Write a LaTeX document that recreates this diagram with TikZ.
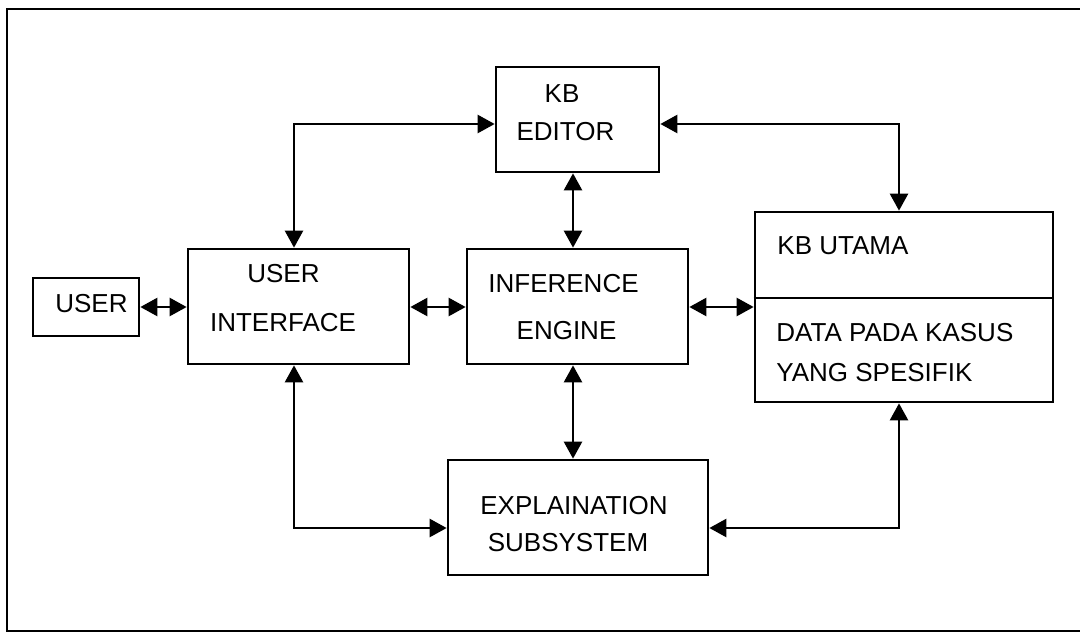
\documentclass[tikz,border=0pt]{standalone}
\usepackage{fontspec}
\setmainfont{Liberation Sans}
\usetikzlibrary{arrows.meta}
\begin{document}
\begin{tikzpicture}[x=0.5pt,y=-0.5pt,
  box/.style={draw, line width=1.35pt, inner sep=0pt},
  lbl/.style={inner sep=0pt, anchor=base, font=\fontsize{13}{15}\selectfont},
  lbll/.style={lbl, anchor=base west},
  link/.style={line width=1.25pt, {Triangle[length=8.5pt,width=9pt]}-{Triangle[length=8.5pt,width=9pt]}},
  framestyle/.style={line width=1pt}]
\useasboundingbox (0,0) rectangle (1080,632);
\coordinate (f1) at (1080,9);
\coordinate (f2) at (7,9);
\coordinate (f3) at (7,631);
\coordinate (f4) at (1080,631);
\draw[framestyle] (f1) -- (f2) -- (f3) -- (f4);

% boxes
\node[box, minimum width=53pt, minimum height=29pt] (user) at (86,307) {};
\node[box, minimum width=110.5pt, minimum height=57.5pt] (ui) at (298.5,306.5) {};
\node[box, minimum width=110.5pt, minimum height=57.5pt] (ie) at (577.5,306.5) {};
\node[box, minimum width=81.5pt, minimum height=52.5pt] (kbe) at (577.5,119.5) {};
\node[box, minimum width=149pt, minimum height=95pt] (kbu) at (904,307) {};
\node[box, minimum width=130pt, minimum height=57.5pt] (expl) at (578,517.5) {};

\coordinate (dv) at (0,298);
\draw[line width=1.35pt] (kbu.west |- dv) -- (kbu.east |- dv);

% texts
\node[lbl] (tuser) at (91.5,312) {USER};
\node[lbl] (tui1) at (283.5,282) {USER};
\node[lbl] (tui2) at (283,331) {INTERFACE};
\node[lbl] (tie1) at (563.5,292) {INFERENCE};
\node[lbl] (tie2) at (566.5,339) {ENGINE};
\node[lbl] (tkbe1) at (562,102) {KB};
\node[lbl] (tkbe2) at (565.5,140) {EDITOR};
\node[lbll] (tkbu1) at (777,254) {KB UTAMA};
\node[lbll] (tkbu2) at (776,341) {DATA PADA KASUS};
\node[lbll] (tkbu3) at (776,381) {YANG SPESIFIK};
\node[lbl] (tex1) at (574,514) {EXPLAINATION};
\node[lbl] (tex2) at (568,551) {SUBSYSTEM};

% connector guides
\coordinate (hrow) at (0,307);
\coordinate (c1) at (294,124);
\coordinate (c2) at (899,124);
\coordinate (vmid) at (573,0);
\coordinate (c4) at (294,528);
\coordinate (c5) at (899,528);

% connectors
\draw[link] (user.east |- hrow) -- (ui.west |- hrow);
\draw[link] (ui.east |- hrow) -- (ie.west |- hrow);
\draw[link] (ie.east |- hrow) -- (kbu.west |- hrow);
\draw[link] (ui.north -| c1) -- (c1) -- (kbe.west |- c1);
\draw[link] (kbe.east |- c2) -- (c2) -- (kbu.north -| c2);
\draw[link] (kbe.south -| vmid) -- (ie.north -| vmid);
\draw[link] (ie.south -| vmid) -- (expl.north -| vmid);
\draw[link] (ui.south -| c4) -- (c4) -- (expl.west |- c4);
\draw[link] (expl.east |- c5) -- (c5) -- (kbu.south -| c5);
\end{tikzpicture}
\end{document}
